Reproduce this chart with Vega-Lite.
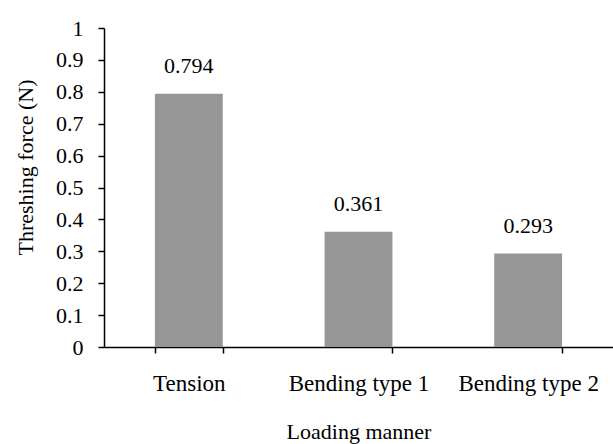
{
  "$schema": "https://vega.github.io/schema/vega-lite/v6.json",
  "width": 509,
  "height": 319,
  "autosize": {"type": "none"},
  "padding": {"left": 104, "top": 28, "right": 0, "bottom": 97},
  "config": {
    "view": {"stroke": null},
    "font": "Liberation Serif",
    "axis": {
      "domainColor": "#000000",
      "domainWidth": 1.5,
      "tickColor": "#000000",
      "tickWidth": 1.5,
      "tickSize": 6,
      "grid": false,
      "labelFont": "Liberation Serif",
      "labelFontSize": 22,
      "labelColor": "#000000",
      "titleFont": "Liberation Serif",
      "titleFontSize": 22,
      "titleFontWeight": "normal",
      "titleColor": "#000000"
    }
  },
  "data": {
    "values": [
      {"manner": "Tension", "force": 0.794},
      {"manner": "Bending type 1", "force": 0.361},
      {"manner": "Bending type 2", "force": 0.293}
    ]
  },
  "encoding": {
    "x": {
      "field": "manner",
      "type": "nominal",
      "sort": null,
      "scale": {"paddingInner": 0.6, "paddingOuter": 0.3},
      "axis": {
        "title": "Loading manner",
        "labelAngle": 0,
        "labelFontSize": 23,
        "tickBand": "extent",
        "labelPadding": 19,
        "titlePadding": 26
      }
    },
    "y": {
      "field": "force",
      "type": "quantitative",
      "scale": {"domain": [0, 1], "nice": false},
      "axis": {
        "title": "Threshing force (N)",
        "values": [0, 0.1, 0.2, 0.3, 0.4, 0.5, 0.6, 0.7, 0.8, 0.9, 1],
        "format": ".1~f",
        "labelPadding": 15,
        "titleX": -79,
        "titleY": 139,
        "titleAngle": 270,
        "titleAlign": "center",
        "titleBaseline": "middle"
      }
    }
  },
  "layer": [
    {"mark": {"type": "bar", "color": "#969696"}},
    {
      "mark": {"type": "text", "baseline": "alphabetic", "dy": -21, "fontSize": 22, "font": "Liberation Serif", "color": "#000000"},
      "encoding": {"text": {"field": "force", "type": "quantitative", "format": ".3f"}}
    }
  ]
}
